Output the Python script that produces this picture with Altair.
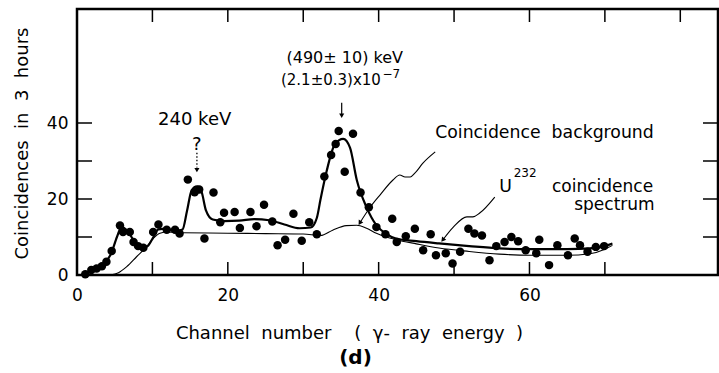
import altair as alt
import pandas as pd

# ---- measured data points ----
pt_x = [1.1, 1.9, 2.6, 3.3, 3.9, 4.6, 5.7, 6.1, 7.0, 7.5, 8.1, 8.8, 10.1, 10.8, 11.9, 13.0, 13.6,
        14.7, 15.6, 16.2, 16.9, 18.1, 19.0, 19.5, 20.9, 21.6, 23.0, 23.8, 24.8, 25.9, 26.6, 27.6,
        28.7, 29.8, 30.8, 31.8, 32.8, 33.7, 34.3, 34.7, 35.5, 36.6, 37.6, 38.7, 39.7, 40.9, 41.8,
        42.4, 43.6, 44.8, 45.9, 46.9, 47.6, 48.9, 49.8, 50.8, 51.9, 52.7, 53.7, 54.7, 55.6, 56.7,
        57.6, 58.5, 59.5, 60.9, 61.3, 62.6, 63.7, 65.1, 66.0, 66.7, 67.7, 68.8, 69.9]
pt_y = [0.2, 1.3, 1.7, 2.3, 3.5, 6.3, 13.0, 11.3, 11.3, 8.7, 7.6, 7.2, 11.3, 13.3, 11.9, 11.9, 10.9,
        25.1, 21.8, 22.5, 9.6, 21.7, 13.9, 16.4, 16.6, 12.4, 16.6, 12.8, 18.5, 14.1, 7.8, 9.3,
        16.1, 9.0, 13.9, 10.7, 25.9, 31.6, 34.5, 37.9, 27.2, 37.2, 21.7, 17.8, 12.6, 10.7, 14.8,
        8.7, 10.2, 12.2, 6.5, 10.7, 5.2, 5.7, 3.0, 6.1, 12.2, 10.9, 10.4, 3.9, 7.6, 8.7,
        10.0, 8.9, 6.5, 5.7, 9.3, 2.6, 7.8, 5.2, 9.6, 7.8, 6.1, 7.4, 7.6]

# ---- fitted U232 coincidence spectrum (thick curve) ----
fit_x = [0.6, 1.5, 2.5, 3.5, 4.5, 5.3, 5.9, 6.6, 7.5, 8.5, 9.3, 10.0, 10.8, 11.9, 13.0, 14.0,
         14.6, 15.2, 15.9, 16.5, 17.1, 18.0, 19.5, 21.5, 23.5, 25.5, 27.5, 29.5, 31.0, 31.8,
         32.3, 33.1, 34.2, 35.3, 36.2, 37.1, 38.4, 39.7, 41.0, 42.3, 45.0, 48.0, 52.0, 56.0,
         60.0, 65.0, 68.0, 70.0, 71.0]
fit_y = [0.0, 0.8, 1.5, 2.8, 5.5, 10.0, 12.6, 11.8, 9.2, 7.3, 7.5, 9.5, 12.0, 12.2, 11.5, 12.0,
         17.0, 22.3, 23.3, 22.0, 17.0, 14.6, 14.2, 14.3, 14.7, 14.4, 13.3, 12.3, 12.5, 15.0,
         20.0, 27.3, 34.4, 35.8, 33.5, 25.0, 17.8, 13.1, 10.8, 9.6, 8.9, 8.3, 7.6, 7.0,
         6.8, 6.8, 7.0, 7.6, 8.3]

# ---- coincidence background (thin curve) ----
bg_x = [4.4, 5.5, 6.6, 7.9, 9.2, 10.1, 11.0, 12.0, 14.0, 20.0, 25.0, 30.0, 32.3, 33.9, 35.7,
        37.1, 38.4, 39.7, 41.0, 42.3, 45.0, 48.0, 52.0, 56.0, 60.0, 65.0, 68.0, 70.0, 71.0]
bg_y = [0.0, 0.6, 2.2, 4.8, 7.4, 9.6, 11.0, 11.3, 11.1, 11.0, 10.9, 10.8, 10.4, 11.8, 13.0,
        13.1, 12.3, 11.0, 10.0, 9.3, 8.2, 7.1, 6.2, 5.5, 5.2, 5.2, 5.6, 6.8, 7.8]

# ---- leader lines of the labels ----
lead_bg_x = [47.5, 45.9, 44.8, 44.2, 43.5, 42.8, 41.9, 40.2, 38.9, 37.5]
lead_bg_y = [32.4, 29.5, 26.8, 25.8, 25.8, 26.3, 25.0, 21.1, 17.9, 13.7]
lead_u_x = [55.4, 53.4, 52.5, 51.7, 49.9, 48.5]
lead_u_y = [20.5, 16.3, 15.3, 15.3, 12.6, 9.2]

# ---- tick marks (inside the frame) ----
bottom_ticks = [10, 20, 30, 40, 50, 60, 70]
top_ticks = [10, 20, 30, 40, 50, 60, 70, 80]
side_ticks = [10, 20, 30, 40]

NB = "\u00a0"
FONT = "DejaVu Sans"
W, H = 641, 266
xs = alt.Scale(domain=[0, 85], nice=False, zero=False)
ys = alt.Scale(domain=[0, 70], nice=False, zero=False)

pts = pd.DataFrame({"x": pt_x, "y": pt_y})
fit = pd.DataFrame({"x": fit_x, "y": fit_y, "o": list(range(len(fit_x)))})
bg = pd.DataFrame({"x": bg_x, "y": bg_y, "o": list(range(len(bg_x)))})
lbg = pd.DataFrame({"x": lead_bg_x, "y": lead_bg_y, "o": list(range(len(lead_bg_x)))})
lu = pd.DataFrame({"x": lead_u_x, "y": lead_u_y, "o": list(range(len(lead_u_x)))})

x_title = f"Channel{NB}{NB}number{NB}{NB}{NB}{NB}({NB}{NB}γ-{NB}{NB}ray{NB}{NB}energy{NB}{NB})"
y_title = f"Coincidences{NB}{NB}in{NB}{NB}3{NB}{NB}hours"

X = alt.X("x:Q", scale=xs, axis=alt.Axis(
    values=[0, 20, 40, 60], ticks=False, domain=False, grid=False, labelFlush=False,
    labelFontSize=17, labelPadding=12, labelFont=FONT, labelColor="black",
    title=x_title, titleFont=FONT, titleFontSize=18,
    titleFontWeight="normal", titleColor="black", titleX=272, titleY=63,
    titleBaseline="alphabetic"))
Y = alt.Y("y:Q", scale=ys, axis=alt.Axis(
    values=[0, 20, 40], ticks=False, domain=False, grid=False,
    labelFontSize=17, labelPadding=9, labelFont=FONT, labelColor="black",
    title=y_title, titleFont=FONT, titleFontSize=18,
    titleFontWeight="normal", titleColor="black", titleX=-50, titleY=134,
    titleBaseline="alphabetic"))
Xn = alt.X("x:Q", scale=xs)
Yn = alt.Y("y:Q", scale=ys)

points = alt.Chart(pts).mark_circle(size=72, color="black", opacity=1).encode(x=X, y=Y)
fit_line = alt.Chart(fit).mark_line(color="black", strokeWidth=2.2, interpolate="monotone").encode(
    x=Xn, y=Yn, order="o:Q")
bg_line = alt.Chart(bg).mark_line(color="black", strokeWidth=1.1, interpolate="monotone").encode(
    x=Xn, y=Yn, order="o:Q")
lead1 = alt.Chart(lbg).mark_line(color="black", strokeWidth=1.1, interpolate="monotone").encode(
    x=Xn, y=Yn, order="o:Q")
lead2 = alt.Chart(lu).mark_line(color="black", strokeWidth=1.1, interpolate="monotone").encode(
    x=Xn, y=Yn, order="o:Q")

# arrow heads
heads = pd.DataFrame({"x": [37.5, 48.5], "y": [13.7, 9.2], "a": [212, 218]})
arrow_heads = alt.Chart(heads).mark_point(shape="triangle-up", filled=True, color="black",
                                          size=28, opacity=1).encode(
    x=Xn, y=Yn, angle=alt.Angle("a:Q", scale=None))
down_heads = pd.DataFrame({"x": [15.9, 35.1], "y": [27.6, 41.9]})
arrow_down = alt.Chart(down_heads).mark_point(shape="triangle-down", filled=True, color="black",
                                              size=26, opacity=1).encode(x=Xn, y=Yn)
stem490 = pd.DataFrame({"x": [35.1], "y": [45.3], "y2": [42.4]})
stem_a = alt.Chart(stem490).mark_rule(color="black", strokeWidth=1.2).encode(
    x=Xn, y=Yn, y2="y2:Q")
stemq = pd.DataFrame({"x": [15.9], "y": [32.2], "y2": [28.3]})
stem_q = alt.Chart(stemq).mark_rule(color="black", strokeWidth=1.3, strokeDash=[1.5, 2]).encode(
    x=Xn, y=Yn, y2="y2:Q")

# texts
def txt(df, size=17, align="center", weight="normal"):
    return alt.Chart(pd.DataFrame(df)).mark_text(
        font=FONT, fontSize=size, align=align, baseline="middle", color="black",
        fontWeight=weight).encode(x=Xn, y=Yn, text="t:N")

t_240 = txt({"x": [15.6, 15.9], "y": [40.8, 34.2], "t": [f"240{NB}keV", "?"]}, size=18)
t_490 = txt({"x": [35.5], "y": [57.1], "t": [f"(490±{NB}10){NB}keV"]}, size=16)
t_r = txt({"x": [40.3], "y": [51.3], "t": ["(2.1±0.3)x10"]}, size=15, align="right")
t_sup = txt({"x": [40.5, 57.9], "y": [52.9, 26.8], "t": ["−7", "232"]}, size=12, align="left")
t_left = txt({"x": [47.5, 56.0], "y": [37.4, 23.2],
              "t": [f"Coincidence{NB}{NB}background", "U"]}, size=17.3, align="left")
t_right = txt({"x": [76.4, 76.6], "y": [23.2, 18.4], "t": ["coincidence", "spectrum"]},
              size=17, align="right")

# inward ticks
tb = alt.Chart(pd.DataFrame({"x": bottom_ticks})).mark_rule(color="black", strokeWidth=1.5).encode(
    x=Xn, y=alt.value(H), y2=alt.value(H - 13))
tt = alt.Chart(pd.DataFrame({"x": top_ticks})).mark_rule(color="black", strokeWidth=1.5).encode(
    x=Xn, y=alt.value(0), y2=alt.value(13))
tl = alt.Chart(pd.DataFrame({"y": side_ticks})).mark_rule(color="black", strokeWidth=1.5).encode(
    y=Yn, x=alt.value(0), x2=alt.value(15))
tr = alt.Chart(pd.DataFrame({"y": side_ticks})).mark_rule(color="black", strokeWidth=1.5).encode(
    y=Yn, x=alt.value(W), x2=alt.value(W - 15))

chart = alt.layer(
    points, tb, tt, tl, tr, bg_line, fit_line, lead1, lead2, arrow_heads, arrow_down,
    stem_a, stem_q, t_240, t_490, t_r, t_sup, t_left, t_right
).properties(
    width=W, height=H,
    background="white",
    title=alt.TitleParams(text="(d)", orient="bottom", font=FONT, fontSize=20,
                          fontWeight="bold", color="black", frame="group",
                          anchor="middle", dx=-42, offset=6),
    autosize=alt.AutoSizeParams(type="none"),
    padding={"left": 77, "top": 9, "right": 1, "bottom": 98},
).configure_view(stroke="black", strokeWidth=2.5)

chart.save("out.html", embed_options={"renderer": "svg", "actions": False})
